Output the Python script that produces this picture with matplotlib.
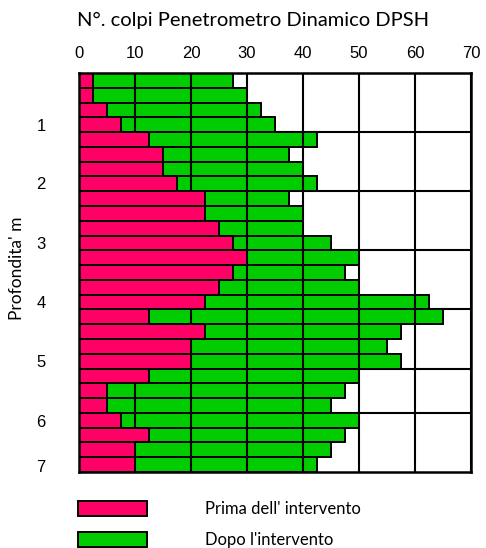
import matplotlib
matplotlib.use("Agg")
import matplotlib.pyplot as plt
from matplotlib.patches import Rectangle
import numpy as np

# Data: each row is 0.25 m of depth
row_step = 0.25
prima = [2.5, 2.5, 5, 7.5, 12.5, 15, 15, 17.5, 22.5, 22.5, 25, 27.5, 30, 27.5,
         25, 22.5, 12.5, 22.5, 20, 20, 12.5, 5, 5, 7.5, 12.5, 10, 10]
dopo = [27.5, 30, 32.5, 35, 42.5, 37.5, 40, 42.5, 37.5, 40, 40, 45, 50, 47.5,
        50, 62.5, 65, 57.5, 55, 57.5, 50, 47.5, 45, 50, 47.5, 45, 42.5]
x_ticks = [0, 10, 20, 30, 40, 50, 60, 70]
y_tick_labels = ["1", "2", "3", "4", "5", "6", "7"]
y_tick_pos = [0.88, 1.86, 2.87, 3.87, 4.87, 5.89, 6.65]
h_grid = [1, 2, 3, 4, 5, 5.75]

title = "N°. colpi Penetrometro Dinamico DPSH"
ylabel = "Profondita' m"
leg_labels = ["Prima dell' intervento", "Dopo l'intervento"]

PINK = "#FF0066"
GREEN = "#00CC00"
TXT_FONT = ["Lato", "DejaVu Sans"]
NUM_FONT = ["Liberation Sans", "DejaVu Sans"]

W, H = 486, 548
fig = plt.figure(figsize=(W / 100, H / 100), dpi=100)
ax = fig.add_axes([79 / W, 1 - 472 / H, 392 / W, 399 / H])

n = len(dopo)
depth_top = np.arange(n) * row_step
centers = depth_top + row_step / 2

ax.set_xlim(0, 70)
ax.set_ylim(n * row_step, 0)

# horizontal grid (only visible in white area)
for yv in h_grid:
    ax.axhline(yv, color="black", lw=1.5, zorder=0.5)

ax.barh(centers, dopo, height=row_step, color=GREEN, edgecolor="black",
        linewidth=1.4, zorder=1)
for xv in x_ticks[1:]:
    ax.axvline(xv, color="black", lw=1.5, zorder=2)
ax.barh(centers, prima, height=row_step, color=PINK, edgecolor="black",
        linewidth=1.4, zorder=3)

for s in ax.spines.values():
    s.set_linewidth(1.8)
    s.set_zorder(5)

ax.xaxis.tick_top()
ax.set_xticks(x_ticks)
ax.set_xticklabels([str(v) for v in x_ticks])
for t in ax.get_xticklabels():
    t.set_fontfamily(NUM_FONT)
    t.set_fontsize(12)
ax.tick_params(axis="x", length=0, pad=9)
ax.set_yticks(y_tick_pos)
ax.set_yticklabels(y_tick_labels)
for t in ax.get_yticklabels():
    t.set_fontfamily(NUM_FONT)
    t.set_fontsize(12)
ax.tick_params(axis="y", length=0, pad=24)

fig.text(253 / W, 1 - 20 / H, title, ha="center", va="center",
         fontsize=14.5, family=TXT_FONT)
fig.text(17 / W, 1 - 268 / H, ylabel, ha="center", va="center",
         rotation=90, fontsize=12.5, family=TXT_FONT)

# legend
for i, (col, lab) in enumerate(zip([PINK, GREEN], leg_labels)):
    ytop = 501 + 31 * i
    fig.patches.append(Rectangle((78 / W, 1 - (ytop + 15) / H), 69 / W, 15 / H,
                                 transform=fig.transFigure, facecolor=col,
                                 edgecolor="black", linewidth=1.4))
    fig.text(205 / W, 1 - (ytop + 7.5) / H, lab, ha="left", va="center",
             fontsize=12, family=TXT_FONT)

fig.savefig("out.png", dpi=100)
